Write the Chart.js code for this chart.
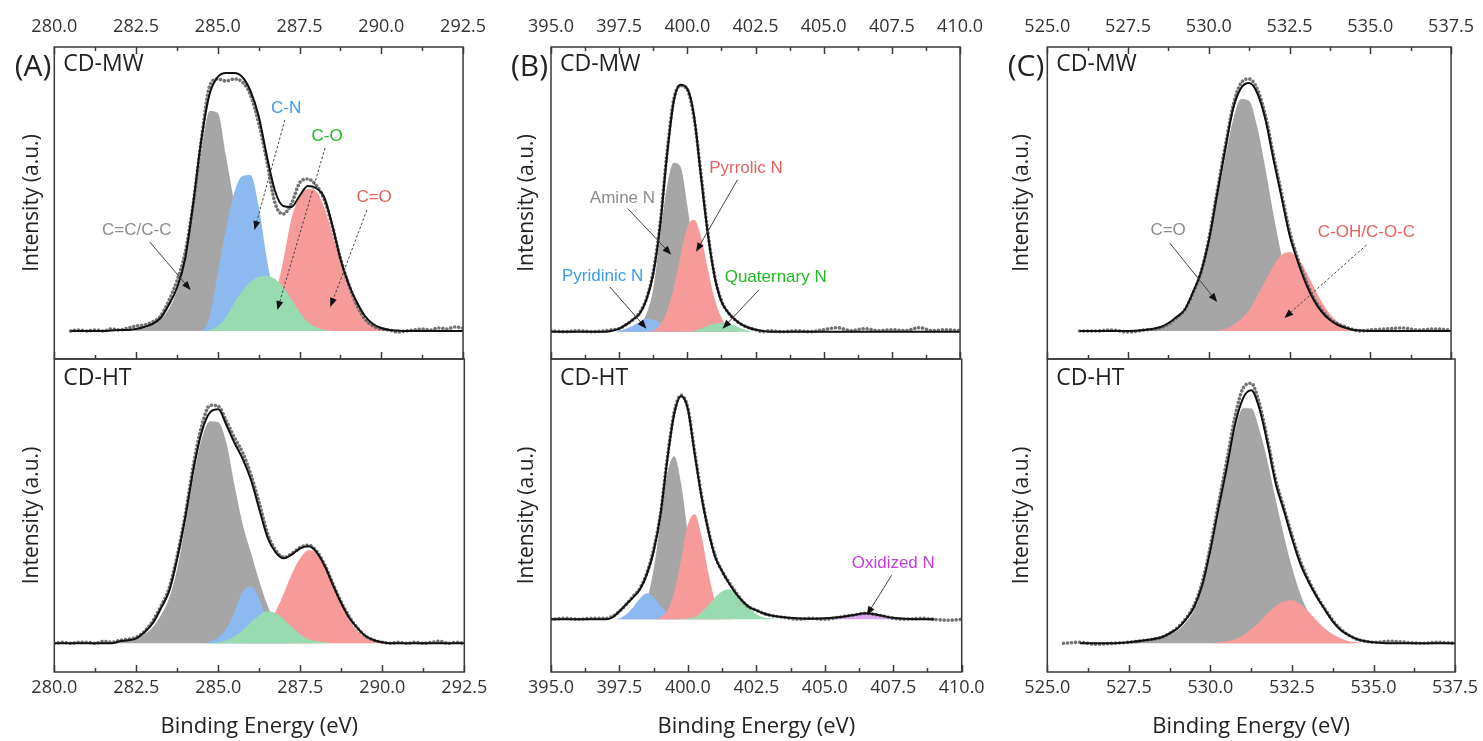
<!DOCTYPE html>
<html>
<head>
<meta charset="utf-8">
<title>XPS C1s / N1s / O1s</title>
<script src="https://cdn.jsdelivr.net/npm/chart.js@4.4.1/dist/chart.umd.min.js"></script>
<style>
  body { margin: 0; background: #fff; width: 1483px; height: 741px; overflow: hidden; position: relative; }
  canvas { position: absolute; }
</style>
</head>
<body>
<script>
Chart.defaults.font.family = "'Open Sans', 'DejaVu Sans', sans-serif";
Chart.defaults.color = '#2b2b2b';

// ---- C1s (A) ----
const energyC1s = [280, 280.25, 280.5, 280.75, 281, 281.25, 281.5, 281.75, 282, 282.25,
  282.5, 282.75, 283, 283.25, 283.5, 283.75, 284, 284.25, 284.5, 284.75,
  285, 285.25, 285.5, 285.75, 286, 286.25, 286.5, 286.75, 287, 287.25,
  287.5, 287.75, 288, 288.25, 288.5, 288.75, 289, 289.25, 289.5, 289.75,
  290, 290.25, 290.5, 290.75, 291, 291.25, 291.5, 291.75, 292, 292.25, 292.5];

const c1sMwDots = [null, null, 0, 1, 0, 1, 0, 2, 1, 3, 5, 6, 9, 15, 30, 50, 78, 128, 192, 245,
  252, 250, 252, 249, 236, 208, 170, 128, 117, 127, 148, 152, 146, 132, 105, 73, 47, 26, 12, 5,
  2, 1, -1, 0, 1, 2, 1, 3, 2, 4, 3];
const c1sMwFit = [null, null, 0, 0, 0, 0, 0, 0.5, 1, 1, 2, 4, 7, 13, 26, 43, 72, 128, 192, 237,
  254, 258, 258, 254, 240, 215, 175, 140, 125, 124, 135, 145, 143, 134, 106, 72, 47, 29, 15, 7,
  3, 1, 0.5, 0, 0, 0, 0, 0, 0, 0, 0];
const c1sMwCC = [0, 0, 0, 0, 0, 0, 0, 0, 0, 0, 1, 3, 6, 12, 22, 40, 70, 122, 180, 220,
  218, 175, 128, 80, 45, 24, 12, 6, 3, 1, 0, 0, 0, 0, 0, 0, 0, 0, 0, 0,
  0, 0, 0, 0, 0, 0, 0, 0, 0, 0, 0];
const c1sMwCN = [0, 0, 0, 0, 0, 0, 0, 0, 0, 0, 0, 0, 0, 0, 0, 0, 0, 0, 0, 15,
  58, 102, 138, 155, 156, 125, 72, 32, 12, 4, 1, 0, 0, 0, 0, 0, 0, 0, 0, 0,
  0, 0, 0, 0, 0, 0, 0, 0, 0, 0, 0];
const c1sMwCO = [0, 0, 0, 0, 0, 0, 0, 0, 0, 0, 0, 0, 0, 0, 0, 0, 0, 0, 0, 1,
  5, 14, 28, 40, 49, 54, 55, 52, 44, 32, 19, 9, 4, 1, 0, 0, 0, 0, 0, 0,
  0, 0, 0, 0, 0, 0, 0, 0, 0, 0, 0];
const c1sMwCdO = [0, 0, 0, 0, 0, 0, 0, 0, 0, 0, 0, 0, 0, 0, 0, 0, 0, 0, 0, 0,
  0, 0, 0, 1, 3, 7, 16, 35, 70, 112, 134, 142, 140, 124, 98, 69, 44, 25, 12, 6,
  2, 1, 0, 0, 0, 0, 0, 0, 0, 0, 0];

const c1sHtDots = [0, 1, 0, 1, 1, 0, 2, 1, 3, 4, 6, 12, 22, 37, 55, 88, 130, 180, 218, 238,
  237, 222, 205, 190, 168, 140, 110, 93, 86, 90, 96, 98, 92, 78, 59, 41, 26, 15, 7, 3,
  1, 0, 1, 0, 1, 0, 1, 2, 0, 1, 0];
const c1sHtFit = [0, 0, 0, 0, 0, 0, 0, 0, 2, 3, 5, 11, 20, 35, 52, 85, 127, 175, 212, 231,
  234, 218, 200, 184, 163, 134, 106, 91, 85, 89, 95, 97, 91, 77, 58, 40, 25, 15, 7, 3,
  1, 0, 0, 0, 0, 0, 0, 0, 0, 0, 0];
const c1sHtCC = [0, 0, 0, 0, 0, 0, 0, 0, 2, 3, 5, 9, 16, 28, 45, 75, 120, 168, 205, 222,
  221, 200, 157, 118, 90, 62, 38, 20, 10, 5, 2, 1, 0, 0, 0, 0, 0, 0, 0, 0,
  0, 0, 0, 0, 0, 0, 0, 0, 0, 0, 0];
const c1sHtCN = [0, 0, 0, 0, 0, 0, 0, 0, 0, 0, 0, 0, 0, 0, 0, 0, 0, 0, 0, 2,
  6, 15, 32, 52, 57, 44, 22, 8, 2, 0, 0, 0, 0, 0, 0, 0, 0, 0, 0, 0,
  0, 0, 0, 0, 0, 0, 0, 0, 0, 0, 0];
const c1sHtCO = [0, 0, 0, 0, 0, 0, 0, 0, 0, 0, 0, 0, 0, 0, 0, 0, 0, 0, 0, 0,
  1, 3, 7, 13, 21, 28, 32, 30, 24, 16, 9, 4, 2, 1, 0, 0, 0, 0, 0, 0,
  0, 0, 0, 0, 0, 0, 0, 0, 0, 0, 0];
const c1sHtCdO = [0, 0, 0, 0, 0, 0, 0, 0, 0, 0, 0, 0, 0, 0, 0, 0, 0, 0, 0, 0,
  0, 0, 0, 0, 4, 9, 18, 32, 50, 70, 85, 93, 90, 77, 58, 39, 23, 12, 6, 2,
  1, 0, 0, 0, 0, 0, 0, 0, 0, 0, 0];

// ---- N1s (B) ----
const energyN1s = [395, 395.5, 396, 396.5, 397, 397.25, 397.5, 397.75, 398, 398.25,
  398.5, 398.75, 399, 399.25, 399.5, 399.75, 400, 400.25, 400.5, 400.75,
  401, 401.25, 401.5, 401.75, 402, 402.25, 402.5, 402.75, 403, 403.5,
  404, 404.5, 405, 405.5, 406, 406.5, 407, 407.5, 408, 408.5, 409, 409.5, 410];

const n1sMwDots = [1, 0, 1, 0, 1, 2, 3, 7, 12, 19, 33, 60, 108, 178, 232, 246, 242, 213, 158, 100,
  56, 31, 19, 12, 7, 4, 2, 0, 1, 0, 1, 0, 2, 4, 1, 3, 1, 2, 1, 4, 1, 2, 1];
const n1sMwFit = [0, 0, 0, 0, 0, 1, 3, 7, 12, 18, 32, 58, 105, 175, 230, 247, 243, 215, 155, 98,
  55, 30, 19, 12, 7, 4, 2, 1, 0, 0, 0, 0, 0, 0, 0, 0, 0, 0, 0, 0, 0, 0, 0];
const n1sMwAmine = [0, 0, 0, 0, 0, 0, 0, 1, 3, 7, 18, 43, 95, 145, 169, 165, 126, 76, 36, 13,
  4, 1, 0, 0, 0, 0, 0, 0, 0, 0, 0, 0, 0, 0, 0, 0, 0, 0, 0, 0, 0, 0, 0];
const n1sMwPyrrolic = [0, 0, 0, 0, 0, 0, 0, 0, 0, 0, 0, 1, 7, 20, 44, 76, 105, 112, 95, 63,
  33, 14, 4, 1, 0, 0, 0, 0, 0, 0, 0, 0, 0, 0, 0, 0, 0, 0, 0, 0, 0, 0, 0];
const n1sMwPyridinic = [0, 0, 0, 0, 0, 0, 1, 3, 6, 10, 13, 12, 9, 5, 2, 1, 0, 0, 0, 0,
  0, 0, 0, 0, 0, 0, 0, 0, 0, 0, 0, 0, 0, 0, 0, 0, 0, 0, 0, 0, 0, 0, 0];
const n1sMwQuaternary = [0, 0, 0, 0, 0, 0, 0, 0, 0, 0, 0, 0, 0, 0, 0, 0, 0, 1, 3, 6,
  8, 9, 8, 6, 3, 1, 0, 0, 0, 0, 0, 0, 0, 0, 0, 0, 0, 0, 0, 0, 0, 0, 0];

const n1sHtDots = [0, 1, 0, 1, 1, 3, 8, 15, 23, 31, 46, 70, 106, 162, 207, 224, 211, 167, 124, 89,
  63, 48, 37, 27, 18, 12, 9, 6, 4, 2, 0, 1, 0, 2, 4, 6, 4, 1, 0, 1, 0, -1, 0];
const n1sHtFit = [0, 0, 0, 0, 0, 2, 8, 15, 22, 30, 45, 68, 105, 160, 205, 223, 210, 165, 122, 88,
  62, 48, 36, 26, 18, 12, 9, 6, 4, 2, 1, 0.5, 1, 2, 4, 6, 4, 1.5, 0.5, 0, 0, null, null];
const n1sHtAmine = [0, 0, 0, 0, 0, 0, 0, 1, 2, 5, 19, 50, 98, 146, 163, 136, 86, 41, 14, 4,
  1, 0, 0, 0, 0, 0, 0, 0, 0, 0, 0, 0, 0, 0, 0, 0, 0, 0, 0, 0, 0, 0, 0];
const n1sHtPyrrolic = [0, 0, 0, 0, 0, 0, 0, 0, 0, 0, 0, 0, 2, 9, 27, 60, 95, 105, 83, 46,
  18, 5, 1, 0, 0, 0, 0, 0, 0, 0, 0, 0, 0, 0, 0, 0, 0, 0, 0, 0, 0, 0, 0];
const n1sHtPyridinic = [0, 0, 0, 0, 0, 0, 1, 5, 12, 21, 26, 22, 13, 6, 2, 0, 0, 0, 0, 0,
  0, 0, 0, 0, 0, 0, 0, 0, 0, 0, 0, 0, 0, 0, 0, 0, 0, 0, 0, 0, 0, 0, 0];
const n1sHtQuaternary = [0, 0, 0, 0, 0, 0, 0, 0, 0, 0, 0, 0, 0, 0, 0, 0, 1, 2, 7, 14,
  22, 28, 30, 26, 19, 11, 5, 2, 1, 0, 0, 0, 0, 0, 0, 0, 0, 0, 0, 0, 0, 0, 0];
const n1sHtOxidized = [0, 0, 0, 0, 0, 0, 0, 0, 0, 0, 0, 0, 0, 0, 0, 0, 0, 0, 0, 0,
  0, 0, 0, 0, 0, 0, 0, 0, 0, 0, 0, 0, 0, 1, 3, 5, 3, 0.5, 0, 0, 0, 0, 0];

// ---- O1s (C) ----
const energyO1s = [525.5, 526, 526.5, 527, 527.5, 528, 528.5, 528.75, 529, 529.25,
  529.5, 529.75, 530, 530.25, 530.5, 530.75, 531, 531.25, 531.5, 531.75,
  532, 532.25, 532.5, 532.75, 533, 533.25, 533.5, 533.75, 534, 534.25,
  534.5, 534.75, 535, 535.5, 536, 536.5, 537, 537.5];

const o1sMwDots = [null, 0, 0, 1, -1, 1, 3, 7, 13, 21, 37, 58, 92, 138, 183, 225, 248, 252, 242, 216,
  176, 138, 100, 73, 51, 33, 21, 12, 7, 4, 1, 0, 1, 2, 3, 1, 2, 1];
const o1sMwFit = [null, 0, 0, 0, 0, 1, 4, 8, 14, 21, 38, 58, 90, 135, 180, 222, 243, 248, 238, 212,
  172, 134, 96, 70, 48, 31, 19, 11, 6, 3, 1, 0.5, 0, 0, 0, 0, 0, 0];
const o1sMwCdO = [0, 0, 0, 0, 0, 2, 4, 7, 12, 19, 34, 55, 86, 130, 172, 211, 232, 230, 204, 163,
  117, 76, 44, 23, 11, 5, 2, 1, 0, 0, 0, 0, 0, 0, 0, 0, 0, 0];
const o1sMwCOH = [0, 0, 0, 0, 0, 0, 0, 0, 0, 0, 0, 0, 0, 0, 2, 6, 12, 21, 35, 50,
  65, 76, 79, 73, 60, 44, 29, 17, 9, 4, 2, 1, 0, 0, 0, 0, 0, 0];

const o1sHtDots = [0, 1, -1, 0, 1, 3, 6, 10, 16, 25, 38, 61, 97, 140, 182, 226, 255, 260, 240, 204,
  164, 136, 108, 83, 64, 48, 35, 23, 14, 8, 4, 2, 1, 2, 1, 0, 1, 0];
const o1sHtFit = [null, 0, 0, 0, 1, 3, 6, 10, 15, 24, 36, 58, 93, 135, 175, 218, 245, 253, 235, 200,
  160, 133, 105, 80, 62, 47, 34, 22, 13, 8, 4, 2, 1, 0, 0, 0, 0, 0];
const o1sHtCdO = [0, 0, 0, 0, 1, 3, 6, 9, 13, 21, 33, 55, 88, 130, 172, 212, 235, 235, 214, 182,
  144, 108, 76, 50, 31, 18, 10, 5, 2, 1, 0, 0, 0, 0, 0, 0, 0, 0];
const o1sHtCOH = [0, 0, 0, 0, 0, 0, 0, 0, 0, 0, 0, 0, 0, 1, 2, 4, 8, 14, 21, 30,
  37, 42, 43, 39, 32, 23, 15, 9, 5, 2, 1, 0, 0, 0, 0, 0, 0, 0];

// colours of the fitted components
const GRAY = '#a6a6a6', BLUE = '#8cb9f0', GREEN = '#99dbb1', RED = '#f79a9a', PURPLE = '#d9a6ef';

// labels with arrows, in data units (energy, intensity)
const notesC1sMw = [
  {text: 'C=C/C-C', color: '#8c8c8c', at: [282.52, 101], from: [282.92, 89], to: [284.17, 41], dash: false},
  {text: 'C-N', color: '#3d9be9', at: [287.09, 223], from: [287.05, 211], to: [286.12, 101], dash: true},
  {text: 'C-O', color: '#22bb22', at: [288.34, 195], from: [288.28, 183], to: [286.82, 21], dash: true},
  {text: 'C=O', color: '#e8615f', at: [289.78, 134], from: [289.56, 121], to: [288.44, 24], dash: true},
];
const notesN1sMw = [
  {text: 'Amine N', color: '#8c8c8c', at: [397.62, 133], from: [397.82, 123], to: [399.41, 77], dash: false},
  {text: 'Pyrrolic N', color: '#e8615f', at: [402.15, 163], from: [401.84, 152], to: [400.32, 80], dash: false},
  {text: 'Pyridinic N', color: '#3d9be9', at: [396.89, 55], from: [397.15, 45], to: [398.5, 3], dash: false},
  {text: 'Quaternary N', color: '#22bb22', at: [403.24, 54], from: [402.63, 42], to: [401.29, 3], dash: false},
];
const notesN1sHt = [
  {text: 'Oxidized N', color: '#c440dc', at: [407.5, 56], from: [407.44, 44], to: [406.53, 4], dash: false},
];
const notesO1sMw = [
  {text: 'C=O', color: '#8c8c8c', at: [528.74, 101], from: [528.79, 88], to: [530.26, 29], dash: false},
  {text: 'C-OH/C-O-C', color: '#e8615f', at: [534.88, 99], from: [534.88, 86], to: [532.34, 13], dash: true},
];

// page geometry of each column (pixels)
const columns = [
  {letter: '(A)', canvasLeft: 0, canvasWidth: 495, plotLeft: 54.3, plotRight: 464.3, titleX: 31.7, min: 280, max: 292.5},
  {letter: '(B)', canvasLeft: 497, canvasWidth: 495, plotLeft: 551, plotRight: 961.7, titleX: 527, min: 395, max: 410},
  {letter: '(C)', canvasLeft: 993, canvasWidth: 490, plotLeft: 1047.3, plotRight: 1457.7, titleX: 1022, min: 525, max: 537.5},
];

const panels = [
  {col: 0, pos: 'top', tag: 'CD-MW', ymin: -28, ymax: 284, energy: energyC1s, dots: c1sMwDots, fit: c1sMwFit, notes: notesC1sMw,
   peaks: [[c1sMwCO, GREEN, 2], [c1sMwCdO, RED, 3], [c1sMwCN, BLUE, 4], [c1sMwCC, GRAY, 5]]},
  {col: 0, pos: 'bottom', tag: 'CD-HT', ymin: -28.7, ymax: 284.3, energy: energyC1s, dots: c1sHtDots, fit: c1sHtFit, notes: [],
   peaks: [[c1sHtCO, GREEN, 2], [c1sHtCdO, RED, 3], [c1sHtCN, BLUE, 4], [c1sHtCC, GRAY, 5]]},
  {col: 1, pos: 'top', tag: 'CD-MW', ymin: -27.3, ymax: 284.7, energy: energyN1s, dots: n1sMwDots, fit: n1sMwFit, notes: notesN1sMw,
   peaks: [[n1sMwQuaternary, GREEN, 2], [n1sMwPyrrolic, RED, 3], [n1sMwPyridinic, BLUE, 4], [n1sMwAmine, GRAY, 5]]},
  {col: 1, pos: 'bottom', tag: 'CD-HT', ymin: -52.7, ymax: 260.3, energy: energyN1s, dots: n1sHtDots, fit: n1sHtFit, notes: notesN1sHt,
   peaks: [[n1sHtOxidized, PURPLE, 2], [n1sHtQuaternary, GREEN, 2], [n1sHtPyrrolic, RED, 3], [n1sHtPyridinic, BLUE, 4], [n1sHtAmine, GRAY, 5]]},
  {col: 2, pos: 'top', tag: 'CD-MW', ymin: -28, ymax: 284, energy: energyO1s, dots: o1sMwDots, fit: o1sMwFit, notes: notesO1sMw,
   peaks: [[o1sMwCOH, RED, 3], [o1sMwCdO, GRAY, 5]]},
  {col: 2, pos: 'bottom', tag: 'CD-HT', ymin: -28.7, ymax: 284.3, energy: energyO1s, dots: o1sHtDots, fit: o1sHtFit, notes: [],
   peaks: [[o1sHtCOH, RED, 3], [o1sHtCdO, GRAY, 5]]},
];

// frame, inward ticks, sample tag and arrow labels
function makeDecor(col, p) {
  const isTop = p.pos === 'top';
  return {
    id: 'decor',
    afterDatasetsDraw(chart) {
      const {ctx, scales: {x, y}} = chart;
      ctx.save();
      p.notes.forEach(n => {
        const fx = x.getPixelForValue(n.from[0]), fy = y.getPixelForValue(n.from[1]);
        const tx = x.getPixelForValue(n.to[0]), ty = y.getPixelForValue(n.to[1]);
        const ang = Math.atan2(ty - fy, tx - fx);
        const c = Math.cos(ang), s = Math.sin(ang);
        ctx.strokeStyle = '#444';
        ctx.lineWidth = 1;
        ctx.setLineDash(n.dash ? [2.5, 2] : []);
        ctx.beginPath();
        ctx.moveTo(fx, fy);
        ctx.lineTo(tx - 6 * c, ty - 6 * s);
        ctx.stroke();
        ctx.setLineDash([]);
        ctx.fillStyle = '#111';
        ctx.beginPath();
        ctx.moveTo(tx, ty);
        ctx.lineTo(tx - 9 * c + 3.5 * s, ty - 9 * s - 3.5 * c);
        ctx.lineTo(tx - 9 * c - 3.5 * s, ty - 9 * s + 3.5 * c);
        ctx.closePath();
        ctx.fill();
        ctx.font = '17px "Liberation Sans", Arial, sans-serif';
        ctx.fillStyle = n.color;
        ctx.textAlign = 'center';
        ctx.textBaseline = 'middle';
        ctx.fillText(n.text, x.getPixelForValue(n.at[0]), y.getPixelForValue(n.at[1]));
      });
      ctx.restore();
    },
    afterDraw(chart) {
      const {ctx, chartArea: a, scales: {x}} = chart;
      ctx.save();
      ctx.strokeStyle = '#3a3a3a';
      ctx.lineWidth = 1.5;
      ctx.strokeRect(a.left, a.top, a.right - a.left, a.bottom - a.top);

      const majors = x.ticks.map(t => t.value);
      const minors = [];
      for (let i = 0; i < majors.length - 1; i++) minors.push((majors[i] + majors[i + 1]) / 2);
      const marks = majors.map(v => [v, 7]).concat(minors.map(v => [v, 4]));
      ctx.beginPath();
      marks.forEach(([v, len]) => {
        const px = Math.round(x.getPixelForValue(v)) + 0.5;
        ctx.moveTo(px, a.bottom);
        ctx.lineTo(px, a.bottom - len);
        if (isTop) {
          ctx.moveTo(px, a.top);
          ctx.lineTo(px, a.top + len);
        }
      });
      ctx.stroke();

      ctx.fillStyle = '#222';
      ctx.textBaseline = 'alphabetic';
      ctx.textAlign = 'left';
      ctx.font = "23px 'Open Sans', sans-serif";
      ctx.fillText(p.tag, a.left + 9, a.top + (isTop ? 24 : 26));
      if (isTop) {
        ctx.textAlign = 'right';
        ctx.font = "30px 'Open Sans', sans-serif";
        ctx.fillText(col.letter, a.left - 3, a.top + 29);
      }
      ctx.restore();
    }
  };
}

function makePanel(p) {
  const col = columns[p.col];
  const isTop = p.pos === 'top';
  const h = isTop ? 362 : 385;
  const canvas = document.createElement('canvas');
  canvas.width = col.canvasWidth;
  canvas.height = h;
  canvas.style.left = col.canvasLeft + 'px';
  canvas.style.top = (isTop ? 0 : 356) + 'px';
  canvas.style.width = col.canvasWidth + 'px';
  canvas.style.height = h + 'px';
  document.body.appendChild(canvas);

  const padLeft = col.titleX - col.canvasLeft - 12.6;
  const yWidth = col.plotLeft - col.canvasLeft - padLeft;
  const padRight = col.canvasLeft + col.canvasWidth - col.plotRight;
  const pts = vals => p.energy.map((e, i) => ({x: e, y: vals[i]}));

  const datasets = [
    {data: pts(p.fit), borderColor: '#111', borderWidth: 2, order: 0},
    {data: pts(p.dots), borderColor: 'rgba(100,100,100,0.9)', borderWidth: 3.6,
     borderDash: [0.01, 4], borderCapStyle: 'round', order: 1},
  ].concat(p.peaks.map(([vals, color, order]) => ({
    data: pts(vals), borderWidth: 0, borderColor: 'rgba(0,0,0,0)',
    backgroundColor: color, fill: 'origin', order: order
  })));

  new Chart(canvas, {
    type: 'line',
    data: {datasets},
    options: {
      responsive: false,
      animation: false,
      events: [],
      layout: {padding: {left: padLeft, right: padRight, top: isTop ? 0 : 3, bottom: isTop ? 3 : 0}},
      elements: {point: {radius: 0}, line: {cubicInterpolationMode: 'monotone'}},
      plugins: {legend: {display: false}, tooltip: {enabled: false}},
      scales: {
        x: {
          type: 'linear', position: isTop ? 'top' : 'bottom', min: col.min, max: col.max,
          afterFit: s => { s.height = isTop ? 47 : 69; },
          grid: {display: false, drawTicks: false},
          border: {display: false},
          ticks: {stepSize: 2.5, padding: isTop ? 9 : 5, autoSkip: false, maxRotation: 0,
                  font: {size: 18}, color: '#333', callback: v => v.toFixed(1)},
          title: {display: !isTop, text: 'Binding Energy (eV)', font: {size: 22}, color: '#222',
                  padding: {top: 0, bottom: 1}}
        },
        y: {
          min: p.ymin, max: p.ymax,
          afterFit: s => { s.width = yWidth; },
          grid: {display: false, drawTicks: false},
          border: {display: false},
          ticks: {display: false},
          title: {display: true, text: 'Intensity (a.u.)', font: {size: 21}, color: '#222', padding: 0}
        }
      }
    },
    plugins: [makeDecor(col, p)]
  });
}

panels.forEach(makePanel);
</script>
</body>
</html>
